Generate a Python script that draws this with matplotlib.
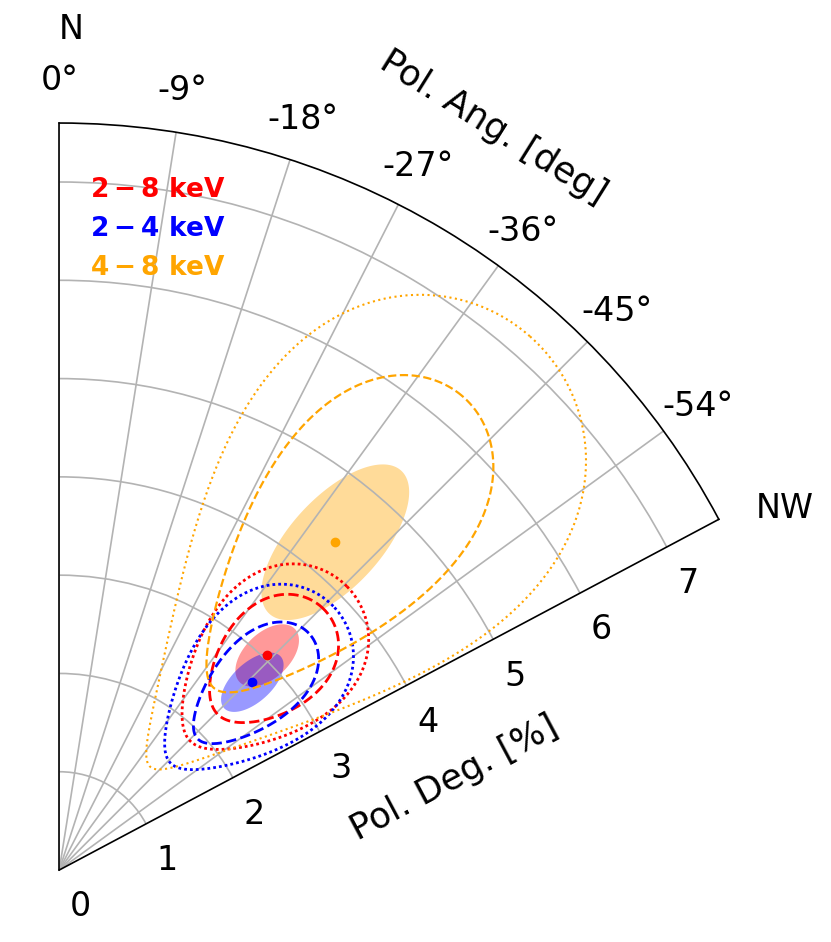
import numpy as np
import matplotlib.pyplot as plt

plt.switch_backend('agg')

# energy bands
bands = [r'$\mathbf{2-8}$ keV', r'$\mathbf{2-4}$ keV', r'$\mathbf{4-8}$ keV']
colors = ['red', 'blue', 'orange']

# best fit: polarization degree [%] and angle [deg]
pd_best = [3.04, 2.74, 4.36]
pa_best = [-44.1, -45.8, -40.1]

# filled ellipse: semi-major / semi-minor [%], tilt of major axis from radial [deg]
fill_a = [0.39, 0.39, 0.99]
fill_c = [0.23, 0.20, 0.46]
fill_tilt = [2.1, 1.8, 2.6]

# dashed contour: centre (PD, PA), half range in PD [%] and in PA [deg]
dash_pd = [3.02, 2.72, 4.38]
dash_pa = [-45.45, -46.5, -40.35]
dash_dpd = [0.76, 0.78, 1.95]
dash_dpa = [10.15, 9.0, 12.65]

# dotted contour
dot_pd = [2.99, 2.72, 4.32]
dot_pa = [-45.4, -46.1, -41.4]
dot_dpd = [1.12, 1.15, 2.92]
dot_dpa = [14.4, 15.1, 20.1]

theta_ticks = [0, -9, -18, -27, -36, -45, -54]
r_ticks = [0, 1, 2, 3, 4, 5, 6, 7]


def pd_pa_contour(pd, pa, dpd, dpa, n=400):
    """ellipse in the (PD, PA) plane -> (theta, r)"""
    t = np.linspace(0, 2 * np.pi, n)
    return np.deg2rad(pa + dpa * np.sin(t)), pd + dpd * np.cos(t)


def sky_ellipse(pd, pa, a, c, tilt, n=200):
    """ellipse on the chart plane centred on (PD, PA) -> (theta, r)"""
    t = np.linspace(0, 2 * np.pi, n)
    ang = np.deg2rad(pa - tilt)
    x0, y0 = pd * np.sin(np.deg2rad(pa)), pd * np.cos(np.deg2rad(pa))
    u, v = a * np.cos(t), c * np.sin(t)
    x = x0 + u * np.sin(ang) + v * np.cos(ang)
    y = y0 + u * np.cos(ang) - v * np.sin(ang)
    return np.arctan2(x, y), np.hypot(x, y)


fig = plt.figure(figsize=(8.31, 9.42), dpi=100)
ax = fig.add_axes([0.0187, 0.0228, 0.8989, 0.9002], projection='polar')
ax.set_theta_zero_location('N')
ax.set_thetamin(-62)
ax.set_thetamax(0)
ax.set_rlim(0, 7.6)

ax.set_thetagrids(theta_ticks, ['%d°' % t for t in theta_ticks])
ax.set_rgrids(r_ticks, [str(r) for r in r_ticks])
ax.tick_params(labelsize=24)
ax.tick_params(axis='x', pad=20)
ax.tick_params(axis='y', pad=13)
ax.grid(color='0.7', lw=1.2)
for sp in ax.spines.values():
    sp.set_linewidth(1.2)

for i in range(3):
    th, r = sky_ellipse(pd_best[i], pa_best[i], fill_a[i], fill_c[i], fill_tilt[i])
    ax.fill(th, r, color=colors[i], alpha=0.4, lw=0)
    orange = colors[i] == 'orange'
    th, r = pd_pa_contour(dash_pd[i], dash_pa[i], dash_dpd[i], dash_dpa[i])
    ax.plot(th, r, color=colors[i], ls='--', lw=1.6 if orange else 2)
    th, r = pd_pa_contour(dot_pd[i], dot_pa[i], dot_dpd[i], dot_dpa[i])
    if orange:
        ax.plot(th, r, color=colors[i], ls=':', lw=1.5)
    else:
        ax.plot(th, r, color=colors[i], ls=(0, (1, 1.1)), lw=2)
    ax.plot(np.deg2rad(pa_best[i]), pd_best[i], 'o', color=colors[i], ms=6)

ax.text(np.deg2rad(-30.3), 8.75, 'Pol. Ang. [deg]', fontsize=25.5,
        rotation=-32, ha='center', va='center')
ax.text(np.deg2rad(-76.9), 4.13, 'Pol. Deg. [%]', fontsize=25.5,
        rotation=28, ha='center', va='center')
ax.text(np.deg2rad(-0.8), 8.55, 'N', fontsize=24, ha='center', va='center')
ax.text(np.deg2rad(-63.5), 8.25, 'NW', fontsize=24, ha='center', va='center')

for i in range(3):
    fig.text(0.1083, 0.7983 - 0.0414 * i, bands[i], color=colors[i],
             fontsize=19, fontweight='bold', va='center')

plt.savefig('out.png')
